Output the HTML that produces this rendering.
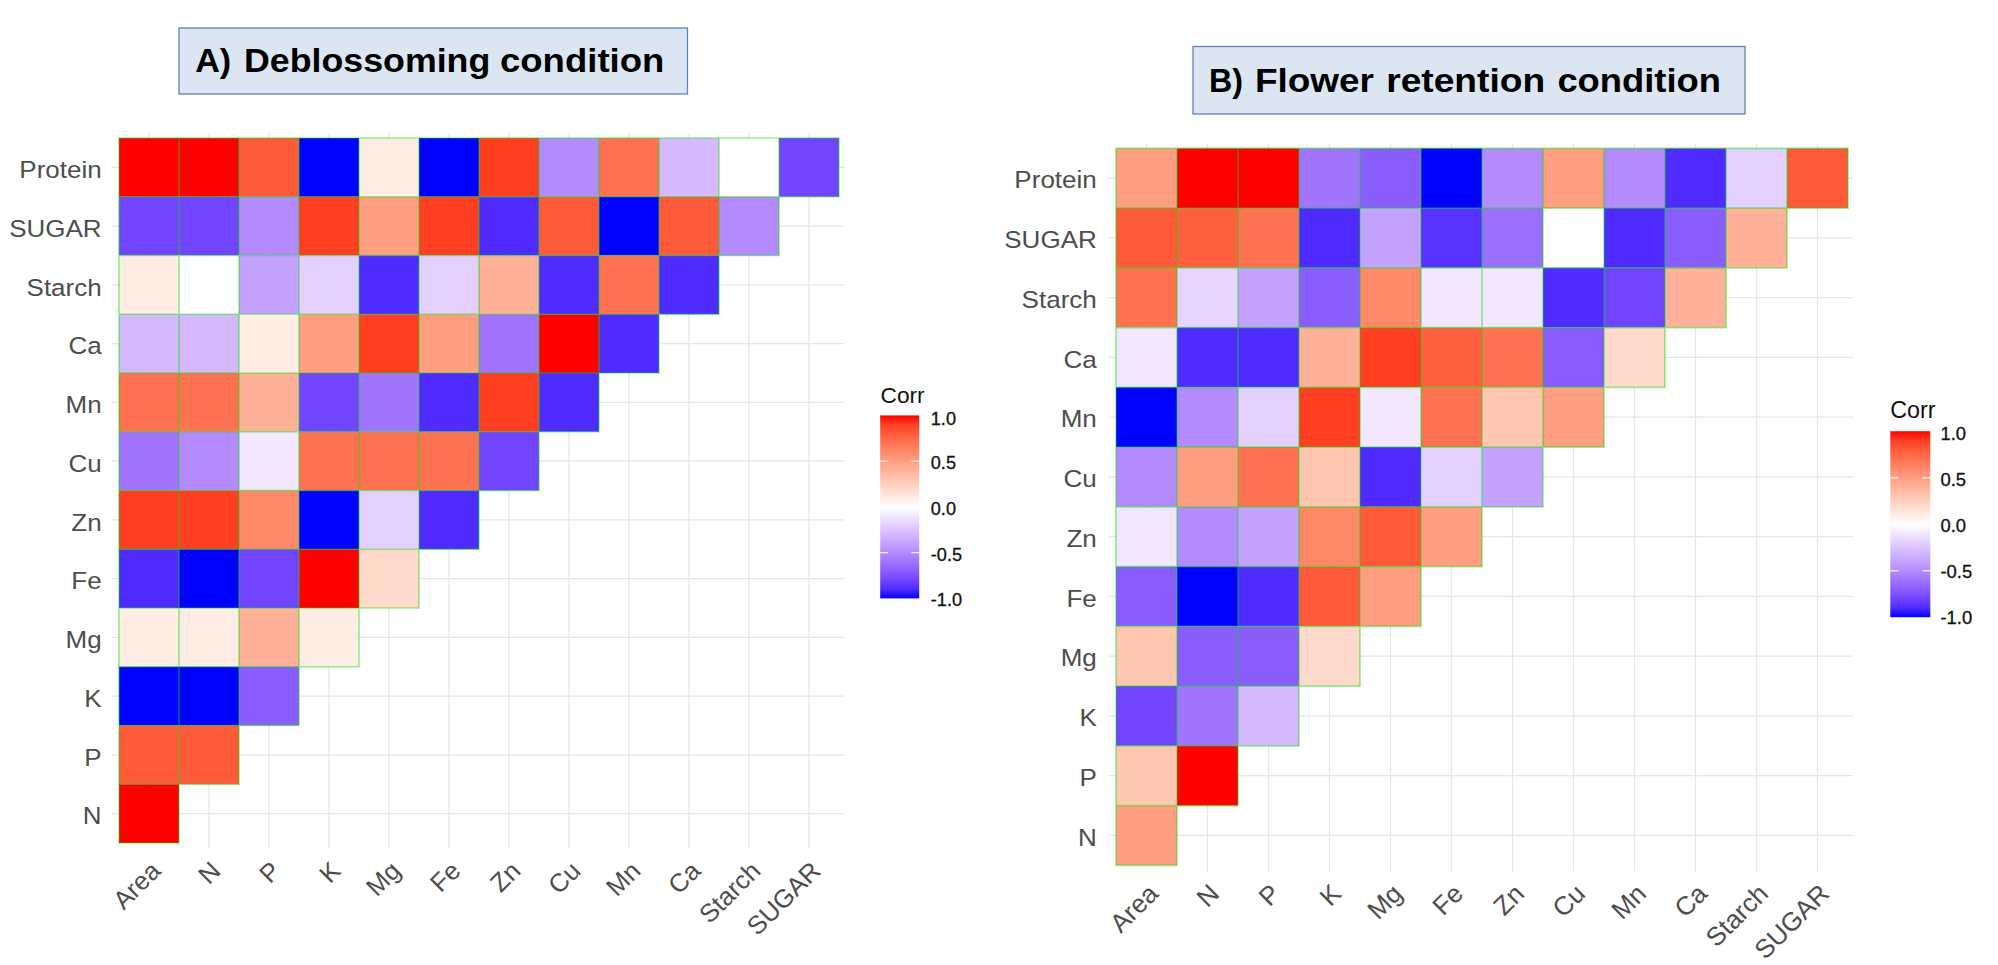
<!DOCTYPE html>
<html lang="en"><head><meta charset="utf-8"><title>Correlation heatmaps</title>
<style>html,body{margin:0;padding:0;background:#fff}body{width:1998px;height:965px;overflow:hidden}svg{display:block}</style></head>
<body>
<svg width="1998" height="965" viewBox="0 0 1998 965" font-family="'Liberation Sans', sans-serif">
<rect width="1998" height="965" fill="#fff"/>
<rect x="179" y="28" width="508.5" height="66" fill="#dce6f2" stroke="#5f82ba" stroke-width="1.3"/>
<text y="72" font-size="33" font-weight="bold" fill="#000"><tspan x="195.2" textLength="36" lengthAdjust="spacingAndGlyphs">A)</tspan> <tspan x="244" textLength="246.3" lengthAdjust="spacingAndGlyphs">Deblossoming</tspan> <tspan x="500" textLength="164.3" lengthAdjust="spacingAndGlyphs">condition</tspan></text>
<rect x="1193" y="46.5" width="552" height="67.5" fill="#dce6f2" stroke="#5f82ba" stroke-width="1.3"/>
<text y="92.2" font-size="33" font-weight="bold" fill="#000" lengthAdjust="spacingAndGlyphs"><tspan x="1209" textLength="34" lengthAdjust="spacingAndGlyphs">B)</tspan> <tspan x="1255" textLength="119" lengthAdjust="spacingAndGlyphs">Flower</tspan> <tspan x="1386.2" textLength="159" lengthAdjust="spacingAndGlyphs">retention</tspan> <tspan x="1557.4" textLength="163.6" lengthAdjust="spacingAndGlyphs">condition</tspan></text>
<path d="M149.00 133V843.0M112 167.38H844.5M209.00 133V848M112 226.12H844.5M269.00 133V848M112 284.88H844.5M329.00 133V848M112 343.62H844.5M389.00 133V848M112 402.38H844.5M449.00 133V848M112 461.12H844.5M509.00 133V848M112 519.88H844.5M569.00 133V848M112 578.62H844.5M629.00 133V848M112 637.38H844.5M689.00 133V848M112 696.12H844.5M749.00 133V848M112 754.88H844.5M809.00 133V848M112 813.62H844.5" stroke="#e6e6e6" stroke-width="1.25" fill="none"/>
<rect x="119.00" y="138.00" width="60.00" height="58.75" fill="#FF0000"/>
<rect x="179.00" y="138.00" width="60.00" height="58.75" fill="#FF0000"/>
<rect x="239.00" y="138.00" width="60.00" height="58.75" fill="#FF5B3A"/>
<rect x="299.00" y="138.00" width="60.00" height="58.75" fill="#0000FF"/>
<rect x="359.00" y="138.00" width="60.00" height="58.75" fill="#FFECE5"/>
<rect x="419.00" y="138.00" width="60.00" height="58.75" fill="#0000FF"/>
<rect x="479.00" y="138.00" width="60.00" height="58.75" fill="#FF3E22"/>
<rect x="539.00" y="138.00" width="60.00" height="58.75" fill="#B38BFF"/>
<rect x="599.00" y="138.00" width="60.00" height="58.75" fill="#FF7352"/>
<rect x="659.00" y="138.00" width="60.00" height="58.75" fill="#D4B9FF"/>
<rect x="719.00" y="138.00" width="60.00" height="58.75" fill="#FFFFFF"/>
<rect x="779.00" y="138.00" width="60.00" height="58.75" fill="#7145FF"/>
<rect x="119.00" y="196.75" width="60.00" height="58.75" fill="#7145FF"/>
<rect x="179.00" y="196.75" width="60.00" height="58.75" fill="#7145FF"/>
<rect x="239.00" y="196.75" width="60.00" height="58.75" fill="#B38BFF"/>
<rect x="299.00" y="196.75" width="60.00" height="58.75" fill="#FF3E22"/>
<rect x="359.00" y="196.75" width="60.00" height="58.75" fill="#FF9E81"/>
<rect x="419.00" y="196.75" width="60.00" height="58.75" fill="#FF3E22"/>
<rect x="479.00" y="196.75" width="60.00" height="58.75" fill="#502BFF"/>
<rect x="539.00" y="196.75" width="60.00" height="58.75" fill="#FF5B3A"/>
<rect x="599.00" y="196.75" width="60.00" height="58.75" fill="#0000FF"/>
<rect x="659.00" y="196.75" width="60.00" height="58.75" fill="#FF5B3A"/>
<rect x="719.00" y="196.75" width="60.00" height="58.75" fill="#B38BFF"/>
<rect x="119.00" y="255.50" width="60.00" height="58.75" fill="#FFECE5"/>
<rect x="179.00" y="255.50" width="60.00" height="58.75" fill="#FFFFFF"/>
<rect x="239.00" y="255.50" width="60.00" height="58.75" fill="#C4A2FF"/>
<rect x="299.00" y="255.50" width="60.00" height="58.75" fill="#E3D0FF"/>
<rect x="359.00" y="255.50" width="60.00" height="58.75" fill="#502BFF"/>
<rect x="419.00" y="255.50" width="60.00" height="58.75" fill="#E3D0FF"/>
<rect x="479.00" y="255.50" width="60.00" height="58.75" fill="#FFB299"/>
<rect x="539.00" y="255.50" width="60.00" height="58.75" fill="#502BFF"/>
<rect x="599.00" y="255.50" width="60.00" height="58.75" fill="#FF7352"/>
<rect x="659.00" y="255.50" width="60.00" height="58.75" fill="#502BFF"/>
<rect x="119.00" y="314.25" width="60.00" height="58.75" fill="#D4B9FF"/>
<rect x="179.00" y="314.25" width="60.00" height="58.75" fill="#D4B9FF"/>
<rect x="239.00" y="314.25" width="60.00" height="58.75" fill="#FFECE5"/>
<rect x="299.00" y="314.25" width="60.00" height="58.75" fill="#FF9E81"/>
<rect x="359.00" y="314.25" width="60.00" height="58.75" fill="#FF3E22"/>
<rect x="419.00" y="314.25" width="60.00" height="58.75" fill="#FF9E81"/>
<rect x="479.00" y="314.25" width="60.00" height="58.75" fill="#A074FF"/>
<rect x="539.00" y="314.25" width="60.00" height="58.75" fill="#FF0000"/>
<rect x="599.00" y="314.25" width="60.00" height="58.75" fill="#502BFF"/>
<rect x="119.00" y="373.00" width="60.00" height="58.75" fill="#FF7352"/>
<rect x="179.00" y="373.00" width="60.00" height="58.75" fill="#FF7352"/>
<rect x="239.00" y="373.00" width="60.00" height="58.75" fill="#FFB299"/>
<rect x="299.00" y="373.00" width="60.00" height="58.75" fill="#7145FF"/>
<rect x="359.00" y="373.00" width="60.00" height="58.75" fill="#A074FF"/>
<rect x="419.00" y="373.00" width="60.00" height="58.75" fill="#502BFF"/>
<rect x="479.00" y="373.00" width="60.00" height="58.75" fill="#FF3E22"/>
<rect x="539.00" y="373.00" width="60.00" height="58.75" fill="#502BFF"/>
<rect x="119.00" y="431.75" width="60.00" height="58.75" fill="#A074FF"/>
<rect x="179.00" y="431.75" width="60.00" height="58.75" fill="#B38BFF"/>
<rect x="239.00" y="431.75" width="60.00" height="58.75" fill="#F2E7FF"/>
<rect x="299.00" y="431.75" width="60.00" height="58.75" fill="#FF7352"/>
<rect x="359.00" y="431.75" width="60.00" height="58.75" fill="#FF7352"/>
<rect x="419.00" y="431.75" width="60.00" height="58.75" fill="#FF7352"/>
<rect x="479.00" y="431.75" width="60.00" height="58.75" fill="#7145FF"/>
<rect x="119.00" y="490.50" width="60.00" height="58.75" fill="#FF3E22"/>
<rect x="179.00" y="490.50" width="60.00" height="58.75" fill="#FF3E22"/>
<rect x="239.00" y="490.50" width="60.00" height="58.75" fill="#FF8969"/>
<rect x="299.00" y="490.50" width="60.00" height="58.75" fill="#0000FF"/>
<rect x="359.00" y="490.50" width="60.00" height="58.75" fill="#E3D0FF"/>
<rect x="419.00" y="490.50" width="60.00" height="58.75" fill="#502BFF"/>
<rect x="119.00" y="549.25" width="60.00" height="58.75" fill="#502BFF"/>
<rect x="179.00" y="549.25" width="60.00" height="58.75" fill="#0000FF"/>
<rect x="239.00" y="549.25" width="60.00" height="58.75" fill="#7145FF"/>
<rect x="299.00" y="549.25" width="60.00" height="58.75" fill="#FF0000"/>
<rect x="359.00" y="549.25" width="60.00" height="58.75" fill="#FFD9CB"/>
<rect x="119.00" y="608.00" width="60.00" height="58.75" fill="#FFECE5"/>
<rect x="179.00" y="608.00" width="60.00" height="58.75" fill="#FFECE5"/>
<rect x="239.00" y="608.00" width="60.00" height="58.75" fill="#FFB299"/>
<rect x="299.00" y="608.00" width="60.00" height="58.75" fill="#FFECE5"/>
<rect x="119.00" y="666.75" width="60.00" height="58.75" fill="#0000FF"/>
<rect x="179.00" y="666.75" width="60.00" height="58.75" fill="#0000FF"/>
<rect x="239.00" y="666.75" width="60.00" height="58.75" fill="#8A5DFF"/>
<rect x="119.00" y="725.50" width="60.00" height="58.75" fill="#FF5B3A"/>
<rect x="179.00" y="725.50" width="60.00" height="58.75" fill="#FF5B3A"/>
<rect x="119.00" y="784.25" width="60.00" height="58.75" fill="#FF0000"/>
<path d="M119.00 138.00h60.00v58.75h-60.00zM179.00 138.00h60.00v58.75h-60.00zM239.00 138.00h60.00v58.75h-60.00zM299.00 138.00h60.00v58.75h-60.00zM359.00 138.00h60.00v58.75h-60.00zM419.00 138.00h60.00v58.75h-60.00zM479.00 138.00h60.00v58.75h-60.00zM539.00 138.00h60.00v58.75h-60.00zM599.00 138.00h60.00v58.75h-60.00zM659.00 138.00h60.00v58.75h-60.00zM719.00 138.00h60.00v58.75h-60.00zM779.00 138.00h60.00v58.75h-60.00zM119.00 196.75h60.00v58.75h-60.00zM179.00 196.75h60.00v58.75h-60.00zM239.00 196.75h60.00v58.75h-60.00zM299.00 196.75h60.00v58.75h-60.00zM359.00 196.75h60.00v58.75h-60.00zM419.00 196.75h60.00v58.75h-60.00zM479.00 196.75h60.00v58.75h-60.00zM539.00 196.75h60.00v58.75h-60.00zM599.00 196.75h60.00v58.75h-60.00zM659.00 196.75h60.00v58.75h-60.00zM719.00 196.75h60.00v58.75h-60.00zM119.00 255.50h60.00v58.75h-60.00zM179.00 255.50h60.00v58.75h-60.00zM239.00 255.50h60.00v58.75h-60.00zM299.00 255.50h60.00v58.75h-60.00zM359.00 255.50h60.00v58.75h-60.00zM419.00 255.50h60.00v58.75h-60.00zM479.00 255.50h60.00v58.75h-60.00zM539.00 255.50h60.00v58.75h-60.00zM599.00 255.50h60.00v58.75h-60.00zM659.00 255.50h60.00v58.75h-60.00zM119.00 314.25h60.00v58.75h-60.00zM179.00 314.25h60.00v58.75h-60.00zM239.00 314.25h60.00v58.75h-60.00zM299.00 314.25h60.00v58.75h-60.00zM359.00 314.25h60.00v58.75h-60.00zM419.00 314.25h60.00v58.75h-60.00zM479.00 314.25h60.00v58.75h-60.00zM539.00 314.25h60.00v58.75h-60.00zM599.00 314.25h60.00v58.75h-60.00zM119.00 373.00h60.00v58.75h-60.00zM179.00 373.00h60.00v58.75h-60.00zM239.00 373.00h60.00v58.75h-60.00zM299.00 373.00h60.00v58.75h-60.00zM359.00 373.00h60.00v58.75h-60.00zM419.00 373.00h60.00v58.75h-60.00zM479.00 373.00h60.00v58.75h-60.00zM539.00 373.00h60.00v58.75h-60.00zM119.00 431.75h60.00v58.75h-60.00zM179.00 431.75h60.00v58.75h-60.00zM239.00 431.75h60.00v58.75h-60.00zM299.00 431.75h60.00v58.75h-60.00zM359.00 431.75h60.00v58.75h-60.00zM419.00 431.75h60.00v58.75h-60.00zM479.00 431.75h60.00v58.75h-60.00zM119.00 490.50h60.00v58.75h-60.00zM179.00 490.50h60.00v58.75h-60.00zM239.00 490.50h60.00v58.75h-60.00zM299.00 490.50h60.00v58.75h-60.00zM359.00 490.50h60.00v58.75h-60.00zM419.00 490.50h60.00v58.75h-60.00zM119.00 549.25h60.00v58.75h-60.00zM179.00 549.25h60.00v58.75h-60.00zM239.00 549.25h60.00v58.75h-60.00zM299.00 549.25h60.00v58.75h-60.00zM359.00 549.25h60.00v58.75h-60.00zM119.00 608.00h60.00v58.75h-60.00zM179.00 608.00h60.00v58.75h-60.00zM239.00 608.00h60.00v58.75h-60.00zM299.00 608.00h60.00v58.75h-60.00zM119.00 666.75h60.00v58.75h-60.00zM179.00 666.75h60.00v58.75h-60.00zM239.00 666.75h60.00v58.75h-60.00zM119.00 725.50h60.00v58.75h-60.00zM179.00 725.50h60.00v58.75h-60.00zM119.00 784.25h60.00v58.75h-60.00z" stroke="#00e000" stroke-opacity=".42" stroke-width="1.7" fill="none"/>
<text transform="translate(101.6 178.09) scale(1.06 1)" text-anchor="end" font-size="24.5" fill="#4d4d4d">Protein</text>
<text transform="translate(101.6 236.84) scale(1.06 1)" text-anchor="end" font-size="24.5" fill="#4d4d4d">SUGAR</text>
<text transform="translate(101.6 295.59) scale(1.06 1)" text-anchor="end" font-size="24.5" fill="#4d4d4d">Starch</text>
<text transform="translate(101.6 354.34) scale(1.06 1)" text-anchor="end" font-size="24.5" fill="#4d4d4d">Ca</text>
<text transform="translate(101.6 413.09) scale(1.06 1)" text-anchor="end" font-size="24.5" fill="#4d4d4d">Mn</text>
<text transform="translate(101.6 471.84) scale(1.06 1)" text-anchor="end" font-size="24.5" fill="#4d4d4d">Cu</text>
<text transform="translate(101.6 530.60) scale(1.06 1)" text-anchor="end" font-size="24.5" fill="#4d4d4d">Zn</text>
<text transform="translate(101.6 589.35) scale(1.06 1)" text-anchor="end" font-size="24.5" fill="#4d4d4d">Fe</text>
<text transform="translate(101.6 648.10) scale(1.06 1)" text-anchor="end" font-size="24.5" fill="#4d4d4d">Mg</text>
<text transform="translate(101.6 706.85) scale(1.06 1)" text-anchor="end" font-size="24.5" fill="#4d4d4d">K</text>
<text transform="translate(101.6 765.60) scale(1.06 1)" text-anchor="end" font-size="24.5" fill="#4d4d4d">P</text>
<text transform="translate(101.6 824.35) scale(1.06 1)" text-anchor="end" font-size="24.5" fill="#4d4d4d">N</text>
<text transform="translate(149.00 859.5) rotate(-45)" y="18.33" text-anchor="end" font-size="25.6" fill="#4d4d4d">Area</text>
<text transform="translate(209.00 859.5) rotate(-45)" y="18.33" text-anchor="end" font-size="25.6" fill="#4d4d4d">N</text>
<text transform="translate(269.00 859.5) rotate(-45)" y="18.33" text-anchor="end" font-size="25.6" fill="#4d4d4d">P</text>
<text transform="translate(329.00 859.5) rotate(-45)" y="18.33" text-anchor="end" font-size="25.6" fill="#4d4d4d">K</text>
<text transform="translate(389.00 859.5) rotate(-45)" y="18.33" text-anchor="end" font-size="25.6" fill="#4d4d4d">Mg</text>
<text transform="translate(449.00 859.5) rotate(-45)" y="18.33" text-anchor="end" font-size="25.6" fill="#4d4d4d">Fe</text>
<text transform="translate(509.00 859.5) rotate(-45)" y="18.33" text-anchor="end" font-size="25.6" fill="#4d4d4d">Zn</text>
<text transform="translate(569.00 859.5) rotate(-45)" y="18.33" text-anchor="end" font-size="25.6" fill="#4d4d4d">Cu</text>
<text transform="translate(629.00 859.5) rotate(-45)" y="18.33" text-anchor="end" font-size="25.6" fill="#4d4d4d">Mn</text>
<text transform="translate(689.00 859.5) rotate(-45)" y="18.33" text-anchor="end" font-size="25.6" fill="#4d4d4d">Ca</text>
<text transform="translate(749.00 859.5) rotate(-45)" y="18.33" text-anchor="end" font-size="25.6" fill="#4d4d4d">Starch</text>
<text transform="translate(809.00 859.5) rotate(-45)" y="18.33" text-anchor="end" font-size="25.6" fill="#4d4d4d">SUGAR</text>
<path d="M1146.50 144V865.3M1108.5 178.18H1853M1207.50 144V871.5M1108.5 237.93H1853M1268.50 144V871.5M1108.5 297.68H1853M1329.50 144V871.5M1108.5 357.43H1853M1390.50 144V871.5M1108.5 417.18H1853M1451.50 144V871.5M1108.5 476.93H1853M1512.50 144V871.5M1108.5 536.67H1853M1573.50 144V871.5M1108.5 596.42H1853M1634.50 144V871.5M1108.5 656.17H1853M1695.50 144V871.5M1108.5 715.92H1853M1756.50 144V871.5M1108.5 775.67H1853M1817.50 144V871.5M1108.5 835.42H1853" stroke="#e6e6e6" stroke-width="1.25" fill="none"/>
<rect x="1116.00" y="148.30" width="61.00" height="59.75" fill="#FF9E81"/>
<rect x="1177.00" y="148.30" width="61.00" height="59.75" fill="#FF0000"/>
<rect x="1238.00" y="148.30" width="61.00" height="59.75" fill="#FF0000"/>
<rect x="1299.00" y="148.30" width="61.00" height="59.75" fill="#A074FF"/>
<rect x="1360.00" y="148.30" width="61.00" height="59.75" fill="#8A5DFF"/>
<rect x="1421.00" y="148.30" width="61.00" height="59.75" fill="#0000FF"/>
<rect x="1482.00" y="148.30" width="61.00" height="59.75" fill="#B38BFF"/>
<rect x="1543.00" y="148.30" width="61.00" height="59.75" fill="#FF9E81"/>
<rect x="1604.00" y="148.30" width="61.00" height="59.75" fill="#B38BFF"/>
<rect x="1665.00" y="148.30" width="61.00" height="59.75" fill="#502BFF"/>
<rect x="1726.00" y="148.30" width="61.00" height="59.75" fill="#E3D0FF"/>
<rect x="1787.00" y="148.30" width="61.00" height="59.75" fill="#FF5B3A"/>
<rect x="1116.00" y="208.05" width="61.00" height="59.75" fill="#FF5B3A"/>
<rect x="1177.00" y="208.05" width="61.00" height="59.75" fill="#FF603F"/>
<rect x="1238.00" y="208.05" width="61.00" height="59.75" fill="#FF7352"/>
<rect x="1299.00" y="208.05" width="61.00" height="59.75" fill="#502BFF"/>
<rect x="1360.00" y="208.05" width="61.00" height="59.75" fill="#C4A2FF"/>
<rect x="1421.00" y="208.05" width="61.00" height="59.75" fill="#5731FF"/>
<rect x="1482.00" y="208.05" width="61.00" height="59.75" fill="#9C70FF"/>
<rect x="1543.00" y="208.05" width="61.00" height="59.75" fill="#FFFFFF"/>
<rect x="1604.00" y="208.05" width="61.00" height="59.75" fill="#502BFF"/>
<rect x="1665.00" y="208.05" width="61.00" height="59.75" fill="#8A5DFF"/>
<rect x="1726.00" y="208.05" width="61.00" height="59.75" fill="#FFB299"/>
<rect x="1116.00" y="267.80" width="61.00" height="59.75" fill="#FF7352"/>
<rect x="1177.00" y="267.80" width="61.00" height="59.75" fill="#E6D5FF"/>
<rect x="1238.00" y="267.80" width="61.00" height="59.75" fill="#C4A2FF"/>
<rect x="1299.00" y="267.80" width="61.00" height="59.75" fill="#8A5DFF"/>
<rect x="1360.00" y="267.80" width="61.00" height="59.75" fill="#FF8969"/>
<rect x="1421.00" y="267.80" width="61.00" height="59.75" fill="#F2E7FF"/>
<rect x="1482.00" y="267.80" width="61.00" height="59.75" fill="#F2E7FF"/>
<rect x="1543.00" y="267.80" width="61.00" height="59.75" fill="#502BFF"/>
<rect x="1604.00" y="267.80" width="61.00" height="59.75" fill="#7145FF"/>
<rect x="1665.00" y="267.80" width="61.00" height="59.75" fill="#FFB299"/>
<rect x="1116.00" y="327.55" width="61.00" height="59.75" fill="#F2E7FF"/>
<rect x="1177.00" y="327.55" width="61.00" height="59.75" fill="#502BFF"/>
<rect x="1238.00" y="327.55" width="61.00" height="59.75" fill="#502BFF"/>
<rect x="1299.00" y="327.55" width="61.00" height="59.75" fill="#FFB299"/>
<rect x="1360.00" y="327.55" width="61.00" height="59.75" fill="#FF3E22"/>
<rect x="1421.00" y="327.55" width="61.00" height="59.75" fill="#FF603F"/>
<rect x="1482.00" y="327.55" width="61.00" height="59.75" fill="#FF7352"/>
<rect x="1543.00" y="327.55" width="61.00" height="59.75" fill="#8A5DFF"/>
<rect x="1604.00" y="327.55" width="61.00" height="59.75" fill="#FFD9CB"/>
<rect x="1116.00" y="387.30" width="61.00" height="59.75" fill="#0000FF"/>
<rect x="1177.00" y="387.30" width="61.00" height="59.75" fill="#B38BFF"/>
<rect x="1238.00" y="387.30" width="61.00" height="59.75" fill="#E3D0FF"/>
<rect x="1299.00" y="387.30" width="61.00" height="59.75" fill="#FF3E22"/>
<rect x="1360.00" y="387.30" width="61.00" height="59.75" fill="#F2E7FF"/>
<rect x="1421.00" y="387.30" width="61.00" height="59.75" fill="#FF7352"/>
<rect x="1482.00" y="387.30" width="61.00" height="59.75" fill="#FFC6B2"/>
<rect x="1543.00" y="387.30" width="61.00" height="59.75" fill="#FF9E81"/>
<rect x="1116.00" y="447.05" width="61.00" height="59.75" fill="#B38BFF"/>
<rect x="1177.00" y="447.05" width="61.00" height="59.75" fill="#FF9E81"/>
<rect x="1238.00" y="447.05" width="61.00" height="59.75" fill="#FF7352"/>
<rect x="1299.00" y="447.05" width="61.00" height="59.75" fill="#FFC6B2"/>
<rect x="1360.00" y="447.05" width="61.00" height="59.75" fill="#502BFF"/>
<rect x="1421.00" y="447.05" width="61.00" height="59.75" fill="#E3D0FF"/>
<rect x="1482.00" y="447.05" width="61.00" height="59.75" fill="#C4A2FF"/>
<rect x="1116.00" y="506.80" width="61.00" height="59.75" fill="#F2E7FF"/>
<rect x="1177.00" y="506.80" width="61.00" height="59.75" fill="#B38BFF"/>
<rect x="1238.00" y="506.80" width="61.00" height="59.75" fill="#C4A2FF"/>
<rect x="1299.00" y="506.80" width="61.00" height="59.75" fill="#FF8969"/>
<rect x="1360.00" y="506.80" width="61.00" height="59.75" fill="#FF5B3A"/>
<rect x="1421.00" y="506.80" width="61.00" height="59.75" fill="#FF9E81"/>
<rect x="1116.00" y="566.55" width="61.00" height="59.75" fill="#8A5DFF"/>
<rect x="1177.00" y="566.55" width="61.00" height="59.75" fill="#0000FF"/>
<rect x="1238.00" y="566.55" width="61.00" height="59.75" fill="#502BFF"/>
<rect x="1299.00" y="566.55" width="61.00" height="59.75" fill="#FF5B3A"/>
<rect x="1360.00" y="566.55" width="61.00" height="59.75" fill="#FF9E81"/>
<rect x="1116.00" y="626.30" width="61.00" height="59.75" fill="#FFC6B2"/>
<rect x="1177.00" y="626.30" width="61.00" height="59.75" fill="#8A5DFF"/>
<rect x="1238.00" y="626.30" width="61.00" height="59.75" fill="#8A5DFF"/>
<rect x="1299.00" y="626.30" width="61.00" height="59.75" fill="#FFD9CB"/>
<rect x="1116.00" y="686.05" width="61.00" height="59.75" fill="#7145FF"/>
<rect x="1177.00" y="686.05" width="61.00" height="59.75" fill="#A074FF"/>
<rect x="1238.00" y="686.05" width="61.00" height="59.75" fill="#D4B9FF"/>
<rect x="1116.00" y="745.80" width="61.00" height="59.75" fill="#FFC6B2"/>
<rect x="1177.00" y="745.80" width="61.00" height="59.75" fill="#FF0000"/>
<rect x="1116.00" y="805.55" width="61.00" height="59.75" fill="#FF9E81"/>
<path d="M1116.00 148.30h61.00v59.75h-61.00zM1177.00 148.30h61.00v59.75h-61.00zM1238.00 148.30h61.00v59.75h-61.00zM1299.00 148.30h61.00v59.75h-61.00zM1360.00 148.30h61.00v59.75h-61.00zM1421.00 148.30h61.00v59.75h-61.00zM1482.00 148.30h61.00v59.75h-61.00zM1543.00 148.30h61.00v59.75h-61.00zM1604.00 148.30h61.00v59.75h-61.00zM1665.00 148.30h61.00v59.75h-61.00zM1726.00 148.30h61.00v59.75h-61.00zM1787.00 148.30h61.00v59.75h-61.00zM1116.00 208.05h61.00v59.75h-61.00zM1177.00 208.05h61.00v59.75h-61.00zM1238.00 208.05h61.00v59.75h-61.00zM1299.00 208.05h61.00v59.75h-61.00zM1360.00 208.05h61.00v59.75h-61.00zM1421.00 208.05h61.00v59.75h-61.00zM1482.00 208.05h61.00v59.75h-61.00zM1543.00 208.05h61.00v59.75h-61.00zM1604.00 208.05h61.00v59.75h-61.00zM1665.00 208.05h61.00v59.75h-61.00zM1726.00 208.05h61.00v59.75h-61.00zM1116.00 267.80h61.00v59.75h-61.00zM1177.00 267.80h61.00v59.75h-61.00zM1238.00 267.80h61.00v59.75h-61.00zM1299.00 267.80h61.00v59.75h-61.00zM1360.00 267.80h61.00v59.75h-61.00zM1421.00 267.80h61.00v59.75h-61.00zM1482.00 267.80h61.00v59.75h-61.00zM1543.00 267.80h61.00v59.75h-61.00zM1604.00 267.80h61.00v59.75h-61.00zM1665.00 267.80h61.00v59.75h-61.00zM1116.00 327.55h61.00v59.75h-61.00zM1177.00 327.55h61.00v59.75h-61.00zM1238.00 327.55h61.00v59.75h-61.00zM1299.00 327.55h61.00v59.75h-61.00zM1360.00 327.55h61.00v59.75h-61.00zM1421.00 327.55h61.00v59.75h-61.00zM1482.00 327.55h61.00v59.75h-61.00zM1543.00 327.55h61.00v59.75h-61.00zM1604.00 327.55h61.00v59.75h-61.00zM1116.00 387.30h61.00v59.75h-61.00zM1177.00 387.30h61.00v59.75h-61.00zM1238.00 387.30h61.00v59.75h-61.00zM1299.00 387.30h61.00v59.75h-61.00zM1360.00 387.30h61.00v59.75h-61.00zM1421.00 387.30h61.00v59.75h-61.00zM1482.00 387.30h61.00v59.75h-61.00zM1543.00 387.30h61.00v59.75h-61.00zM1116.00 447.05h61.00v59.75h-61.00zM1177.00 447.05h61.00v59.75h-61.00zM1238.00 447.05h61.00v59.75h-61.00zM1299.00 447.05h61.00v59.75h-61.00zM1360.00 447.05h61.00v59.75h-61.00zM1421.00 447.05h61.00v59.75h-61.00zM1482.00 447.05h61.00v59.75h-61.00zM1116.00 506.80h61.00v59.75h-61.00zM1177.00 506.80h61.00v59.75h-61.00zM1238.00 506.80h61.00v59.75h-61.00zM1299.00 506.80h61.00v59.75h-61.00zM1360.00 506.80h61.00v59.75h-61.00zM1421.00 506.80h61.00v59.75h-61.00zM1116.00 566.55h61.00v59.75h-61.00zM1177.00 566.55h61.00v59.75h-61.00zM1238.00 566.55h61.00v59.75h-61.00zM1299.00 566.55h61.00v59.75h-61.00zM1360.00 566.55h61.00v59.75h-61.00zM1116.00 626.30h61.00v59.75h-61.00zM1177.00 626.30h61.00v59.75h-61.00zM1238.00 626.30h61.00v59.75h-61.00zM1299.00 626.30h61.00v59.75h-61.00zM1116.00 686.05h61.00v59.75h-61.00zM1177.00 686.05h61.00v59.75h-61.00zM1238.00 686.05h61.00v59.75h-61.00zM1116.00 745.80h61.00v59.75h-61.00zM1177.00 745.80h61.00v59.75h-61.00zM1116.00 805.55h61.00v59.75h-61.00z" stroke="#00e000" stroke-opacity=".42" stroke-width="1.7" fill="none"/>
<text transform="translate(1096.8 188.30) scale(1.05 1)" text-anchor="end" font-size="24.8" fill="#4d4d4d">Protein</text>
<text transform="translate(1096.8 248.05) scale(1.05 1)" text-anchor="end" font-size="24.8" fill="#4d4d4d">SUGAR</text>
<text transform="translate(1096.8 307.80) scale(1.05 1)" text-anchor="end" font-size="24.8" fill="#4d4d4d">Starch</text>
<text transform="translate(1096.8 367.55) scale(1.05 1)" text-anchor="end" font-size="24.8" fill="#4d4d4d">Ca</text>
<text transform="translate(1096.8 427.30) scale(1.05 1)" text-anchor="end" font-size="24.8" fill="#4d4d4d">Mn</text>
<text transform="translate(1096.8 487.05) scale(1.05 1)" text-anchor="end" font-size="24.8" fill="#4d4d4d">Cu</text>
<text transform="translate(1096.8 546.80) scale(1.05 1)" text-anchor="end" font-size="24.8" fill="#4d4d4d">Zn</text>
<text transform="translate(1096.8 606.55) scale(1.05 1)" text-anchor="end" font-size="24.8" fill="#4d4d4d">Fe</text>
<text transform="translate(1096.8 666.30) scale(1.05 1)" text-anchor="end" font-size="24.8" fill="#4d4d4d">Mg</text>
<text transform="translate(1096.8 726.05) scale(1.05 1)" text-anchor="end" font-size="24.8" fill="#4d4d4d">K</text>
<text transform="translate(1096.8 785.80) scale(1.05 1)" text-anchor="end" font-size="24.8" fill="#4d4d4d">P</text>
<text transform="translate(1096.8 845.55) scale(1.05 1)" text-anchor="end" font-size="24.8" fill="#4d4d4d">N</text>
<text transform="translate(1146.50 882) rotate(-45)" y="18.62" text-anchor="end" font-size="26" fill="#4d4d4d">Area</text>
<text transform="translate(1207.50 882) rotate(-45)" y="18.62" text-anchor="end" font-size="26" fill="#4d4d4d">N</text>
<text transform="translate(1268.50 882) rotate(-45)" y="18.62" text-anchor="end" font-size="26" fill="#4d4d4d">P</text>
<text transform="translate(1329.50 882) rotate(-45)" y="18.62" text-anchor="end" font-size="26" fill="#4d4d4d">K</text>
<text transform="translate(1390.50 882) rotate(-45)" y="18.62" text-anchor="end" font-size="26" fill="#4d4d4d">Mg</text>
<text transform="translate(1451.50 882) rotate(-45)" y="18.62" text-anchor="end" font-size="26" fill="#4d4d4d">Fe</text>
<text transform="translate(1512.50 882) rotate(-45)" y="18.62" text-anchor="end" font-size="26" fill="#4d4d4d">Zn</text>
<text transform="translate(1573.50 882) rotate(-45)" y="18.62" text-anchor="end" font-size="26" fill="#4d4d4d">Cu</text>
<text transform="translate(1634.50 882) rotate(-45)" y="18.62" text-anchor="end" font-size="26" fill="#4d4d4d">Mn</text>
<text transform="translate(1695.50 882) rotate(-45)" y="18.62" text-anchor="end" font-size="26" fill="#4d4d4d">Ca</text>
<text transform="translate(1756.50 882) rotate(-45)" y="18.62" text-anchor="end" font-size="26" fill="#4d4d4d">Starch</text>
<text transform="translate(1817.50 882) rotate(-45)" y="18.62" text-anchor="end" font-size="26" fill="#4d4d4d">SUGAR</text>
<defs><linearGradient id="g1" x1="0" y1="0" x2="0" y2="1">
<stop offset="0.000" stop-color="#FF0000"/>
<stop offset="0.050" stop-color="#FF3E22"/>
<stop offset="0.100" stop-color="#FF5B3A"/>
<stop offset="0.150" stop-color="#FF7352"/>
<stop offset="0.200" stop-color="#FF8969"/>
<stop offset="0.250" stop-color="#FF9E81"/>
<stop offset="0.300" stop-color="#FFB299"/>
<stop offset="0.350" stop-color="#FFC6B2"/>
<stop offset="0.400" stop-color="#FFD9CB"/>
<stop offset="0.450" stop-color="#FFECE5"/>
<stop offset="0.500" stop-color="#FFFFFF"/>
<stop offset="0.550" stop-color="#F2E7FF"/>
<stop offset="0.600" stop-color="#E3D0FF"/>
<stop offset="0.650" stop-color="#D4B9FF"/>
<stop offset="0.700" stop-color="#C4A2FF"/>
<stop offset="0.750" stop-color="#B38BFF"/>
<stop offset="0.800" stop-color="#A074FF"/>
<stop offset="0.850" stop-color="#8A5DFF"/>
<stop offset="0.900" stop-color="#7145FF"/>
<stop offset="0.950" stop-color="#502BFF"/>
<stop offset="1.000" stop-color="#0000FF"/>
</linearGradient></defs>
<rect x="880.2" y="415.4" width="39" height="183" fill="url(#g1)"/>
<path d="M880.2 461.15h7.80M919.2 461.15h-7.80M880.2 552.65h7.80M919.2 552.65h-7.80" stroke="#fff" stroke-opacity=".8" stroke-width="1.4" fill="none"/>
<text x="880.5" y="403.2" font-size="22.7" fill="#111">Corr</text>
<text x="930.8" y="424.52" font-size="18.1" fill="#111" stroke="#111" stroke-width=".3">1.0</text>
<text x="930.8" y="468.52" font-size="18.1" fill="#111" stroke="#111" stroke-width=".3">0.5</text>
<text x="930.8" y="515.22" font-size="18.1" fill="#111" stroke="#111" stroke-width=".3">0.0</text>
<text x="930.8" y="560.52" font-size="18.1" fill="#111" stroke="#111" stroke-width=".3">-0.5</text>
<text x="930.8" y="606.02" font-size="18.1" fill="#111" stroke="#111" stroke-width=".3">-1.0</text>
<defs><linearGradient id="g2" x1="0" y1="0" x2="0" y2="1">
<stop offset="0.000" stop-color="#FF0000"/>
<stop offset="0.050" stop-color="#FF3E22"/>
<stop offset="0.100" stop-color="#FF5B3A"/>
<stop offset="0.150" stop-color="#FF7352"/>
<stop offset="0.200" stop-color="#FF8969"/>
<stop offset="0.250" stop-color="#FF9E81"/>
<stop offset="0.300" stop-color="#FFB299"/>
<stop offset="0.350" stop-color="#FFC6B2"/>
<stop offset="0.400" stop-color="#FFD9CB"/>
<stop offset="0.450" stop-color="#FFECE5"/>
<stop offset="0.500" stop-color="#FFFFFF"/>
<stop offset="0.550" stop-color="#F2E7FF"/>
<stop offset="0.600" stop-color="#E3D0FF"/>
<stop offset="0.650" stop-color="#D4B9FF"/>
<stop offset="0.700" stop-color="#C4A2FF"/>
<stop offset="0.750" stop-color="#B38BFF"/>
<stop offset="0.800" stop-color="#A074FF"/>
<stop offset="0.850" stop-color="#8A5DFF"/>
<stop offset="0.900" stop-color="#7145FF"/>
<stop offset="0.950" stop-color="#502BFF"/>
<stop offset="1.000" stop-color="#0000FF"/>
</linearGradient></defs>
<rect x="1890.3" y="431.2" width="40" height="186" fill="url(#g2)"/>
<path d="M1890.3 477.70h8.00M1930.3 477.70h-8.00M1890.3 570.70h8.00M1930.3 570.70h-8.00" stroke="#fff" stroke-opacity=".8" stroke-width="1.4" fill="none"/>
<text x="1890.3" y="417.7" font-size="23.3" fill="#111">Corr</text>
<text x="1940.5" y="440.42" font-size="18.4" fill="#111" stroke="#111" stroke-width=".3">1.0</text>
<text x="1940.5" y="486.22" font-size="18.4" fill="#111" stroke="#111" stroke-width=".3">0.5</text>
<text x="1940.5" y="532.02" font-size="18.4" fill="#111" stroke="#111" stroke-width=".3">0.0</text>
<text x="1940.5" y="578.32" font-size="18.4" fill="#111" stroke="#111" stroke-width=".3">-0.5</text>
<text x="1940.5" y="624.42" font-size="18.4" fill="#111" stroke="#111" stroke-width=".3">-1.0</text>
</svg>
</body></html>
